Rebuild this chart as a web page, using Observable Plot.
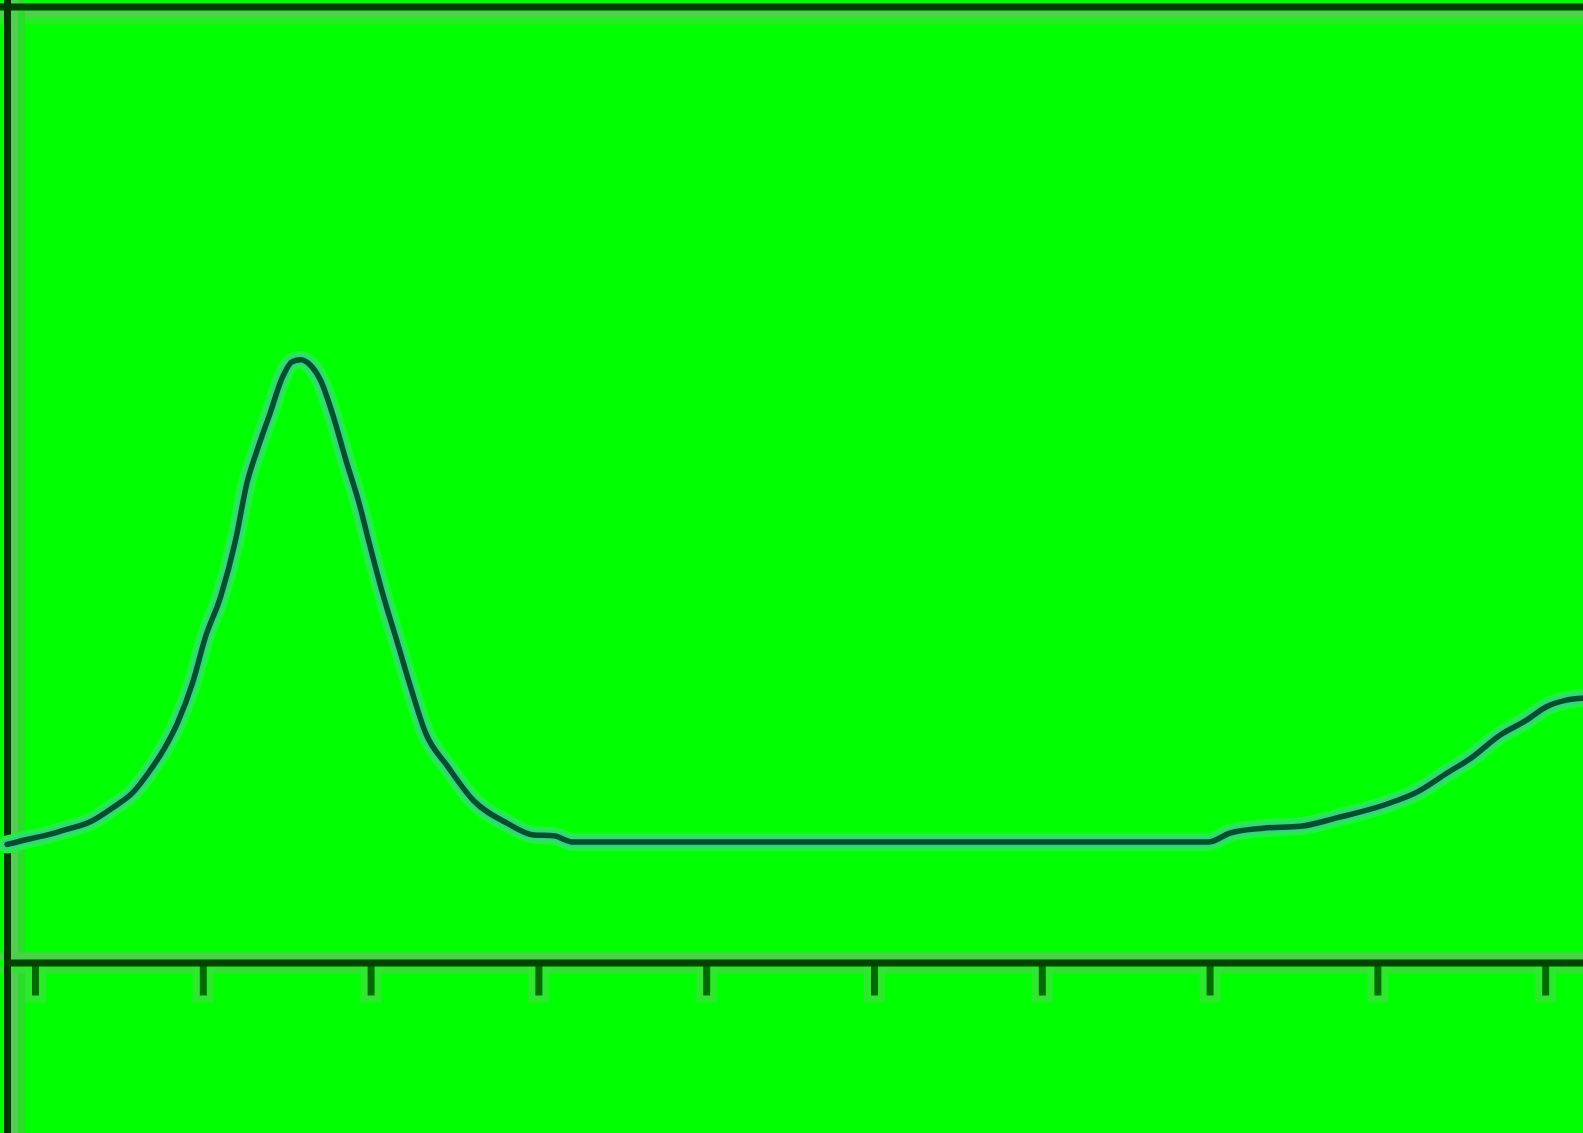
<!DOCTYPE html>
<html>
<head>
<meta charset="utf-8">
<script src="https://cdn.jsdelivr.net/npm/d3@7"></script>
<script src="https://cdn.jsdelivr.net/npm/@observablehq/plot@0.6"></script>
<style>
  html, body { margin: 0; padding: 0; background: #00ff00; overflow: hidden; }
  #chart svg { display: block; }
</style>
</head>
<body>
<div id="chart"></div>
<script>
// Curve samples (x in tick units, y in arbitrary units)
const curveX = [-0.17, -0.03, 0.072, 0.191, 0.33, 0.465, 0.584, 0.673, 0.763, 0.846, 0.936, 1.013, 1.103, 1.192, 1.26, 1.32, 1.40, 1.47, 1.53, 1.58, 1.64, 1.70, 1.776, 1.85, 1.93, 1.985, 2.068, 2.157, 2.235, 2.324, 2.455, 2.61, 2.813, 2.968, 3.087, 3.206, 4.0, 5.0, 6.0, 6.99, 7.12, 7.318, 7.539, 7.759, 8.033, 8.236, 8.415, 8.552, 8.725, 8.886, 9.005, 9.124, 9.23];
const curveY = [12.4, 13.0, 13.4, 14.0, 14.8, 16.3, 17.9, 19.9, 22.3, 25.1, 29.3, 34.1, 38.3, 44.2, 50.2, 53.6, 57.6, 61.2, 62.9, 63.1, 62.5, 60.9, 57.1, 52.6, 48.0, 44.2, 38.7, 33.5, 28.9, 24.1, 20.6, 17.0, 14.6, 13.4, 13.3, 12.65, 12.65, 12.65, 12.65, 12.65, 13.6, 14.1, 14.3, 15.2, 16.5, 17.9, 19.9, 21.4, 23.8, 25.4, 26.8, 27.5, 27.7];
const tickValues = [0, 1, 2, 3, 4, 5, 6, 7, 8, 9];

const curve = curveX.map((x, i) => ({x, y: curveY[i]}));

const W = 1583, H = 1133;
// frame positions in scale units
const xLeft = -0.1669, yTop = 100, yAxis = 0;
const px = 1 / 167.8;   // one pixel in x units
const py = 1 / 9.56;    // one pixel in y units

const chart = Plot.plot({
  width: W,
  height: H,
  margin: 0,
  style: {background: "#00ff00"},
  x: {domain: [-0.2086, 9.2253], range: [0, W], axis: null},
  y: {domain: [0, 100], range: [962.5, 6.5], axis: null},
  marks: [
    // soft bands next to the frame lines
    Plot.ruleY([yTop - 7 * py], {stroke: "#4fd04f", strokeWidth: 7}),
    Plot.ruleY([yTop - 14 * py], {stroke: "#22ee22", strokeWidth: 7}),
    Plot.ruleX([xLeft + 7 * px], {stroke: "#55cc55", strokeWidth: 7}),
    Plot.ruleX([xLeft + 14 * px], {stroke: "#2add2a", strokeWidth: 7}),
    Plot.ruleY([yAxis + 7 * py], {stroke: "#4ccf4c", strokeWidth: 7}),
    Plot.ruleY([yAxis - 7 * py], {stroke: "#33e033", strokeWidth: 7}),
    // tick halos and ticks
    Plot.ruleX(tickValues, {x: d => d, y1: yAxis, y2: yAxis - 40 * py, stroke: "#2ee82e", strokeWidth: 21}),
    Plot.ruleX(tickValues, {x: d => d, y1: yAxis, y2: yAxis - 33 * py, stroke: "#006a00", strokeWidth: 7}),
    // frame lines
    Plot.ruleY([yTop], {stroke: "#003d00", strokeWidth: 7}),
    Plot.ruleX([xLeft], {stroke: "#003300", strokeWidth: 7}),
    Plot.ruleY([yAxis], {x1: xLeft, x2: 9.2253, stroke: "#004400", strokeWidth: 7}),
    // the curve: halo then core
    Plot.line(curve, {x: "x", y: "y", curve: "monotone-x", stroke: "#22ee44", strokeWidth: 18}),
    Plot.line(curve, {x: "x", y: "y", curve: "monotone-x", stroke: "#3acf8f", strokeWidth: 10}),
    Plot.line(curve, {x: "x", y: "y", curve: "monotone-x", stroke: "#00502a", strokeWidth: 5.5})
  ]
});
document.getElementById("chart").appendChild(chart);
</script>
</body>
</html>
